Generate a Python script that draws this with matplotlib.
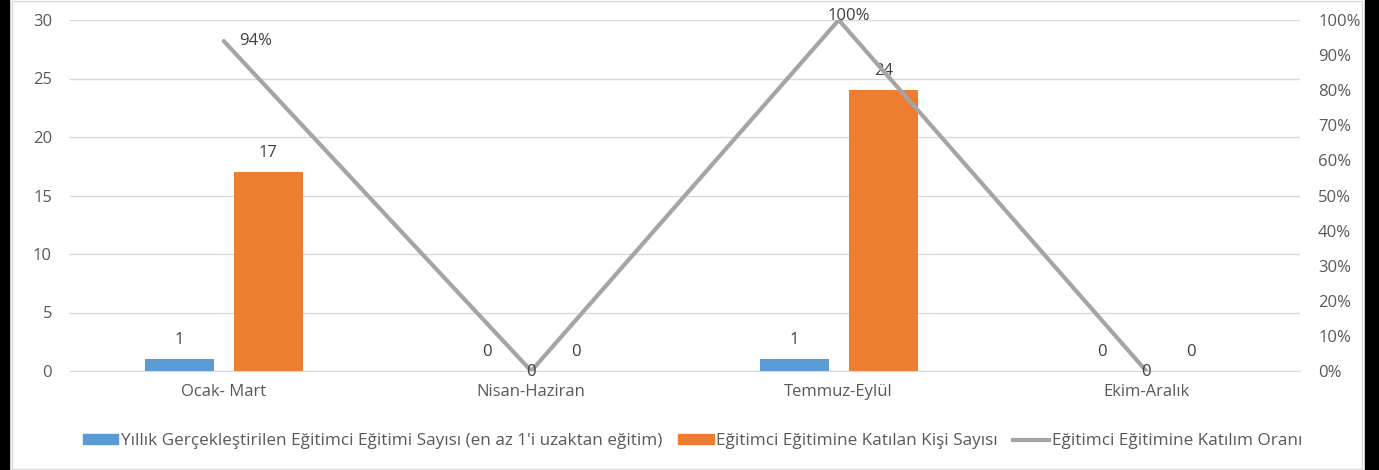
import matplotlib
matplotlib.use('Agg')
import matplotlib.pyplot as plt
import matplotlib.patches as mpatches
from matplotlib.lines import Line2D
import numpy as np

categories = ['Ocak- Mart', 'Nisan-Haziran', 'Temmuz-Eylül', 'Ekim-Aralık']
egitim_sayisi = [1, 0, 1, 0]
katilan_kisi = [17, 0, 24, 0]
katilim_orani = [0.94, 0.0, 1.00, 0.0]
oran_labels = ['94%', '0', '100%', '0']

names = ["Yıllık Gerçekleştirilen Eğitimci Eğitimi Sayısı (en az 1'i uzaktan eğitim)",
         'Eğitimci Eğitimine Katılan Kişi Sayısı',
         'Eğitimci Eğitimine Katılım Oranı']

BLUE, ORANGE, GRAY = '#5B9BD5', '#ED7D31', '#A5A5A5'
TXT = '#595959'
FS = 12
plt.rcParams['font.family'] = ['Open Sans', 'DejaVu Sans']

fig = plt.figure(figsize=(13.79, 4.70), dpi=100)
ax = fig.add_axes([70/1379, 1 - 371/470, 1230/1379, 351/470])
ax2 = ax.twinx()

x = np.arange(len(categories))
w, off = 0.224, 0.145
ax.bar(x - off, egitim_sayisi, w, color=BLUE, zorder=2)
ax.bar(x + off, katilan_kisi, w, color=ORANGE, zorder=2)
for xi, v in zip(x, egitim_sayisi):
    ax.annotate(str(v), (xi - off, v), xytext=(0, 8), textcoords='offset points',
                ha='center', va='bottom', fontsize=FS, color='#404040')
for xi, v in zip(x, katilan_kisi):
    ax.annotate(str(v), (xi + off, v), xytext=(0, 8), textcoords='offset points',
                ha='center', va='bottom', fontsize=FS, color='#404040')

ax2.plot(x, katilim_orani, color=GRAY, lw=3, solid_capstyle='round', zorder=3)
lbl_off = [(23, 0), (0, -1), (7, 3), (0, -1)]
for xi, v, s, (dx, dy) in zip(x, katilim_orani, oran_labels, lbl_off):
    ax2.annotate(s, (xi, v), xytext=(dx, dy), textcoords='offset points',
                 ha='center', va='center', fontsize=FS, color='#404040', zorder=4)

ax.set_xlim(-0.5, 3.5)
ax.set_ylim(0, 30)
ax.set_yticks(range(0, 31, 5))
ax2.set_ylim(0, 1)
ax2.set_yticks(np.arange(0, 1.01, 0.1))
ax2.set_yticklabels([f'{int(round(t*100))}%' for t in np.arange(0, 1.01, 0.1)])
ax.set_xticks(x)
ax.set_xticklabels(categories)
ax.grid(axis='y', color='#D9D9D9', lw=1, zorder=0)
ax.set_axisbelow(True)
for a in (ax, ax2):
    for sp in a.spines.values():
        sp.set_visible(False)
    a.tick_params(length=0, labelsize=FS, colors=TXT)
ax.spines['bottom'].set_visible(True)
ax.spines['bottom'].set_color('#D9D9D9')
ax.tick_params(axis='y', pad=13)
ax.tick_params(axis='x', pad=9)
ax2.tick_params(axis='y', pad=13)

handles = [mpatches.Patch(color=BLUE), mpatches.Patch(color=ORANGE),
           Line2D([0], [0], color=GRAY, lw=3)]
leg = fig.legend(handles, names, loc='center', bbox_to_anchor=(0.502, 1 - 441/470),
                 ncol=3, frameon=False, fontsize=12.3, handlelength=2.1, handleheight=0.45,
                 handletextpad=0.15, columnspacing=0.9, labelcolor=TXT)

# frame of the chart picture
fig.patches.append(mpatches.Rectangle((0, 0), 9/1379, 1, transform=fig.transFigure,
                                      color='black', zorder=10))
fig.patches.append(mpatches.Rectangle((1365/1379, 0), 14/1379, 1, transform=fig.transFigure,
                                      color='black', zorder=10))
fig.patches.append(mpatches.Rectangle((12/1379, 0.003), 1350/1379, 0.994, transform=fig.transFigure,
                                      fill=False, edgecolor='#D9D9D9', lw=1, zorder=10))

fig.savefig('out.png', dpi=100)
